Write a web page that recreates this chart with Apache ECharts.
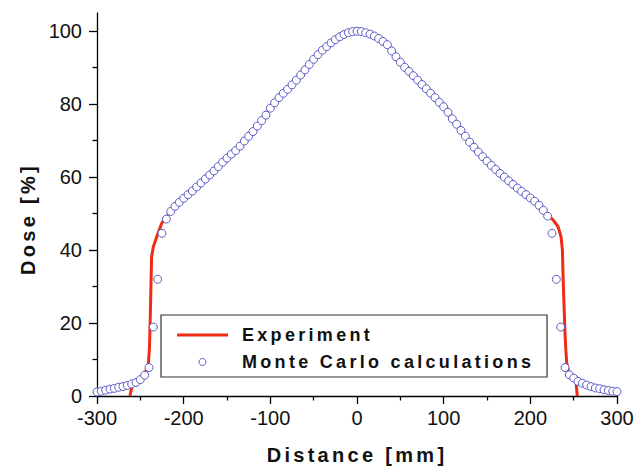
<!DOCTYPE html>
<html><head><meta charset="utf-8">
<script src="https://cdn.jsdelivr.net/npm/echarts@6/dist/echarts.min.js"></script>
<style>
html,body{margin:0;padding:0;background:#fff;}
#chart{width:634px;height:467px;}
#chart svg text[style*="bold"]{letter-spacing:3.3px;}
</style></head><body><div id="chart"></div>
<script>
const mcDistance = [-300,-295,-290,-285,-280,-275,-270,-265,-260,-255,-250,-245,-240,-235,-230,-225,-220,-215,-210,-205,
  -200,-195,-190,-185,-180,-175,-170,-165,-160,-155,-150,-145,-140,-135,-130,-125,-120,-115,-110,-105,
  -100,-95,-90,-85,-80,-75,-70,-65,-60,-55,-50,-45,-40,-35,-30,-25,-20,-15,-10,-5,
  0,5,10,15,20,25,30,35,40,45,50,55,60,65,70,75,80,85,90,95,
  100,105,110,115,120,125,130,135,140,145,150,155,160,165,170,175,180,185,190,195,
  200,205,210,215,220,225,230,235,240,245,250,255,260,265,270,275,280,285,290,295,300];
const mcDose = [1.1,1.3,1.6,1.9,2.1,2.4,2.6,2.9,3.3,3.7,4.5,5.7,7.8,18.9,32.0,44.6,48.5,50.6,52.0,53.1,
  54.2,55.2,56.2,57.3,58.4,59.5,60.6,61.7,62.9,64.1,65.2,66.3,67.3,68.5,69.9,71.2,72.5,74.0,75.5,77.0,
  78.9,80.4,81.8,83.0,84.1,85.3,86.6,88.0,89.4,90.9,92.3,93.6,94.8,95.8,96.8,97.7,98.5,99.1,99.6,99.9,
  100.0,99.9,99.6,99.2,98.7,98.0,97.2,96.3,94.6,93.0,91.5,90.1,89.0,87.8,86.6,85.4,84.2,83.0,81.8,80.5,
  79.3,77.8,76.0,74.5,72.8,71.2,69.6,68.2,66.9,65.6,64.4,63.2,62.1,61.0,60.0,59.0,58.0,57.0,56.1,55.2,
  54.3,53.4,52.3,50.9,49.3,44.6,32.0,18.9,7.8,5.8,4.9,4.0,3.5,3.0,2.6,2.2,2.0,1.7,1.5,1.3,1.2];

const expDistance = [-262,-259.5,-255,-250,-246,-244.6,-240.7,-239.5,-239,-238.3,-237.7,-237,-235,-231,-225.4,-221.5,
  -215,-210,-200,-180,-160,-140,-120,-100,-80,-60,-40,-35,-30,-20,-10,0,10,20,30,34,38,45,60,80,100,120,140,160,180,200,
  209,214,219,223,226.5,232,235.4,237,238,239,240,241,242,244,245.8,249,251.5,252.7,254.2];
const expDose = [0,2.7,3.6,4.5,5.6,6.2,9,13,17.2,24,30.9,38.2,40.9,43.7,47.3,48.6,
  50.6,52.0,54.2,58.4,62.9,67.3,72.5,78.9,84.1,89.4,94.8,95.8,96.8,98.5,99.6,100,99.6,98.7,97.3,97.3,95.6,93.0,89.0,84.2,79.3,72.8,66.9,62.1,58.0,54.3,
  52.8,51.6,50.0,49.0,48.2,46.4,43.7,40,30.9,24,17.2,12.5,9,7,6.2,5.6,5.3,3.9,0];

const yTickValues = [0,20,40,60,80,100];
const yMinorValues = [10,30,50,70,90];

const chart = echarts.init(document.getElementById('chart'), null, {renderer:'svg'});
const boldFont = 'Liberation Sans';
chart.setOption({
  animation:false,
  backgroundColor:'#fff',
  grid:{left:97, right:17, top:13, bottom:71, containLabel:false, outerBoundsMode:'none'},
  legend:{
    left:161, top:315, orient:'vertical', selectedMode:false,
    borderColor:'#333', borderWidth:1.2, padding:[10,92,5,16], itemGap:7,
    itemWidth:51, itemHeight:7,
    textStyle:{fontFamily:boldFont, fontWeight:'bold', fontSize:18, lineHeight:20, color:'#111', padding:[0,0,0,9]},
    data:[
      {name:'Experiment', icon:'path://M0,0H51V3H0Z', itemStyle:{color:'#f02a14', borderWidth:0}},
      {name:'Monte Carlo calculations', itemStyle:{color:'#fff', borderColor:'#5c5cc8', borderWidth:1, opacity:1}}
    ]
  },
  xAxis:{
    type:'value', min:-300, max:300, interval:100,
    name:'Distance [mm]', nameLocation:'middle', nameGap:49,
    nameTextStyle:{fontFamily:boldFont, fontWeight:'bold', fontSize:20, color:'#111'},
    axisLine:{show:true, onZero:false, lineStyle:{color:'#000', width:1.3}},
    axisTick:{show:true, inside:false, length:8, lineStyle:{color:'#000', width:1.3}},
    minorTick:{show:true, splitNumber:2, length:4.5, lineStyle:{color:'#000', width:1.3}},
    axisLabel:{fontFamily:'Liberation Sans', fontSize:20, color:'#111', margin:12},
    splitLine:{show:false}
  },
  yAxis:[{
    type:'value', min:0, max:105, interval:20,
    name:'Dose [%]', nameLocation:'middle', nameGap:56, nameRotate:90,
    nameTextStyle:{fontFamily:boldFont, fontWeight:'bold', fontSize:20, color:'#111', padding:[0,29,0,0]},
    axisLine:{show:true, onZero:false, lineStyle:{color:'#000', width:1.3}},
    axisTick:{show:true, inside:false, length:8, customValues:yTickValues, lineStyle:{color:'#000', width:1.3}},
    axisLabel:{fontFamily:'Liberation Sans', fontSize:20, color:'#111', margin:15, customValues:yTickValues},
    splitLine:{show:false}
  },{
    type:'value', min:0, max:105, position:'left',
    axisLine:{show:false, onZero:false},
    axisTick:{show:true, inside:false, length:4.5, customValues:yMinorValues, lineStyle:{color:'#000', width:1.3}},
    axisLabel:{show:false},
    splitLine:{show:false}
  }],
  series:[{
    name:'Experiment', type:'line', yAxisIndex:0, z:2,
    data:expDistance.map((x,i)=>[x,expDose[i]]),
    symbol:'none', showSymbol:false,
    lineStyle:{color:'#f02a14', width:3}, itemStyle:{color:'#f02a14'}
  },{
    name:'Monte Carlo calculations', type:'scatter', yAxisIndex:0, z:5,
    data:mcDistance.map((x,i)=>[x,mcDose[i]]),
    symbol:'circle', symbolSize:8,
    itemStyle:{color:'#fff', borderColor:'#5c5cc8', borderWidth:1, opacity:1}
  }]
});
</script></body></html>
